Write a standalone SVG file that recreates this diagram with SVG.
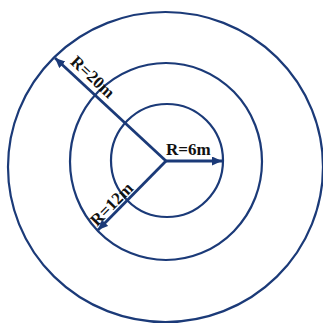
<svg xmlns="http://www.w3.org/2000/svg" width="323" height="324" viewBox="0 0 323 324">
<style>
.ring{fill:none;stroke:#1b3a78;stroke-width:2.2}
.arr{fill:none;stroke:#1b3a78;stroke-width:2.8;marker-end:url(#ah)}
.lbl{font-family:"Liberation Serif","Times New Roman",serif;font-weight:bold;font-size:17px;fill:#111}
</style>
<defs>
<marker id="ah" markerUnits="userSpaceOnUse" markerWidth="12" markerHeight="10" refX="10" refY="4.5" orient="auto">
<path d="M0,0 L10,4.5 L0,9 Z" fill="#1b3a78"/>
</marker>
</defs>
<rect width="323" height="324" fill="#fff"/>
<g id="outer-circle"><ellipse class="ring" cx="165.5" cy="167" rx="157.5" ry="155"/></g>
<g id="middle-circle"><ellipse class="ring" cx="166" cy="161.5" rx="96" ry="98.5"/></g>
<g id="inner-circle"><ellipse class="ring" cx="167" cy="160.5" rx="56" ry="56.5"/></g>
<g id="connectors">
<line class="arr" x1="166" y1="161" x2="55" y2="58"/>
<line class="arr" x1="166" y1="161" x2="98" y2="230"/>
<line class="arr" x1="166" y1="161" x2="222" y2="161"/>
</g>
<g id="labels">
<text class="lbl" x="166" y="155">R=6m</text>
<text class="lbl" text-anchor="middle" transform="translate(89,81) rotate(43)">R=20m</text>
<text class="lbl" text-anchor="middle" transform="translate(115.6,208) rotate(-45.4)">R=12m</text>
</g>
</svg>
